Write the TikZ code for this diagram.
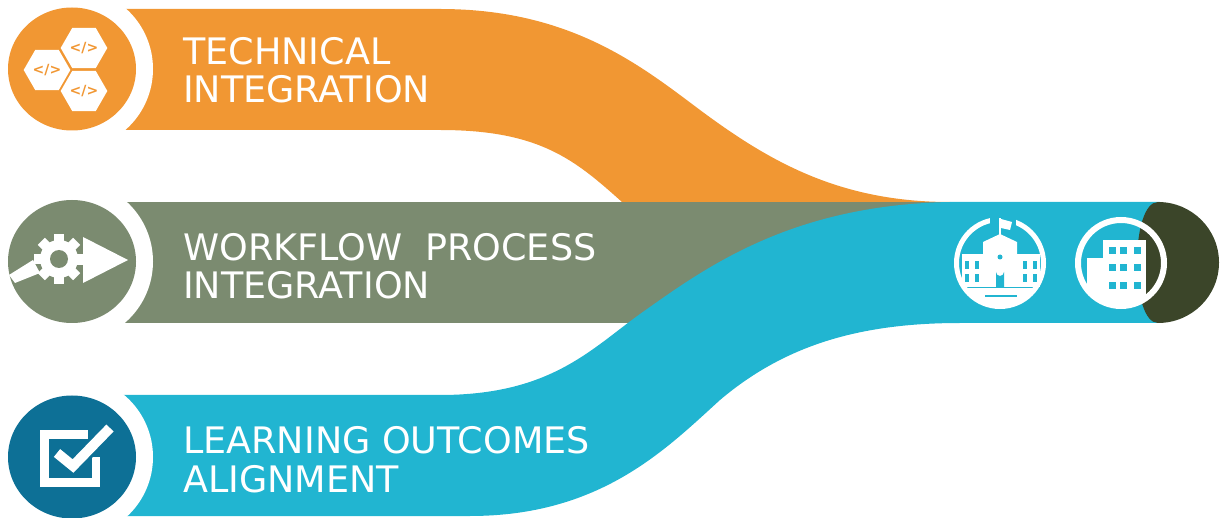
\documentclass[tikz,border=0pt]{standalone}
\usepackage{fontspec}
\setmainfont{DejaVu Sans}
\usetikzlibrary{shapes.geometric}
\definecolor{orangeband}{HTML}{F19733}
\definecolor{greenband}{HTML}{7B8B70}
\definecolor{blueband}{HTML}{21B5D1}
\definecolor{bluedisc}{HTML}{0D7096}
\definecolor{darkcap}{HTML}{3B4529}
\tikzset{
  bandtext/.style={anchor=base west,align=left,text=white,inner sep=0pt,
    font=\fontsize{36.5}{38.5}\selectfont},
  hexcell/.style={regular polygon,regular polygon sides=6,minimum size=46,inner sep=0pt,
    fill=white,text=orangeband,font=\fontsize{14}{14}\bfseries\selectfont},
}
\begin{document}
\begin{tikzpicture}
  [x=1pt,y=-1pt]
  \useasboundingbox (0,0) rectangle (1221,518);

  \fill[orangeband] (60,9) -- (440,9) .. controls (570,9) and (640,65) .. (700,110)
    .. controls (770,162) and (840,202) .. (950,202)
    -- (622,202) .. controls (575,160) and (540,130) .. (440,130) -- (60,130) -- cycle;
  \fill[greenband] (60,202) rectangle (950,323);
  \fill[blueband] (60,395) -- (440,395) .. controls (550,395) and (590,350) .. (640,314)
    .. controls (705,268) and (790,205) .. (950,202)
    -- (1160,202) -- (1160,323) -- (960,323) .. controls (860,323) and (785,345) .. (720,400)
    .. controls (665,450) and (600,516) .. (470,516)
    -- (60,516) -- cycle;
  \fill[darkcap] (1158,202) arc (-90:90:61 and 60.5) .. controls (1130,323) and (1130,202) .. (1158,202) -- cycle;

  \foreach \cy/\col in {69/orangeband,261.5/greenband,457/bluedisc} {
    \fill[white] (72,\cy) circle (81);
    \fill[\col] (72,\cy) ellipse (64 and 61.5);
  }

  \node[hexcell] (hexa) at (84,48) {</>};
  \node[hexcell] (hexb) at (47,70) {</>};
  \node[hexcell] (hexc) at (84,91) {</>};

  % gear and arrow
  \fill[white] (83,237) -- (128,260) -- (83,283) -- cycle;
  \fill[white] (9,275) -- (33,260) -- (40,273) -- (15,283) -- cycle;
  \fill[white] (70,255) rectangle (86,265);
  \foreach \ang in {0,45,...,315}
    \fill[white,rotate around={\ang:(59,259)}] (54,234) rectangle (64,250);
  \fill[white] (59,259) circle (19);
  \fill[greenband] (59,259) circle (9);

  % checkbox
  \fill[white] (40,430) rectangle (100,487);
  \fill[bluedisc] (49,439) rectangle (92,478);
  \fill[bluedisc] (88,425) rectangle (104,457);
  \draw[bluedisc,line width=16] (57,453) -- (73,466) -- (110,428);
  \draw[white,line width=10] (57,453) -- (73,466) -- (110,428);

  % first building
  \begin{scope}
    \clip (1000,263) circle (44);
    \fill[white] (950,288) rectangle (1050,320);
    \fill[blueband] (985,295) rectangle (1017,297);
  \end{scope}
  \draw[white,line width=5] (1000,263) circle (43.5);
  \fill[blueband] (990,215) rectangle (1016,232);
  \fill[white] (999,218) rectangle (1001,236);
  \fill[white] (1001,219) -- (1012,222) -- (1010,230) -- (1001,228) -- cycle;
  \fill[white] (962,254) rectangle (1040,287);
  \fill[white] (983,242) -- (1000,234) -- (1017,242) -- (1017,287) -- (983,287) -- cycle;
  \fill[blueband] (1000,257) circle (2.5);
  \fill[blueband] (996,287) -- (996,272) arc (180:0:4) -- (1004,287) -- cycle;
  \foreach \wx in {965,975,1023,1033}
    \foreach \wy in {261,274}
      \fill[blueband] (\wx,\wy) rectangle ++(4,8);

  % second building
  \begin{scope}
    \clip (1121,263) circle (44);
    \fill[white] (1103,240) rectangle (1146,295);
    \fill[white] (1087,258) rectangle (1103,310);
    \fill[white] (1103,290) rectangle (1146,310);
  \end{scope}
  \draw[white,line width=6] (1121,263) circle (43);
  \foreach \wx in {1109,1120,1134}
    \foreach \wy in {247,264,282}
      \fill[blueband] (\wx,\wy) rectangle ++(7,7);

  \node[bandtext] (tech) at (183,103) {TECHNICAL\\INTEGRATION};
  \node[bandtext] (flow) at (183,299) {WORKFLOW\ \ PROCESS\\INTEGRATION};
  \node[bandtext] (learn) at (183,492) {LEARNING OUTCOMES\\ALIGNMENT};
\end{tikzpicture}
\end{document}
